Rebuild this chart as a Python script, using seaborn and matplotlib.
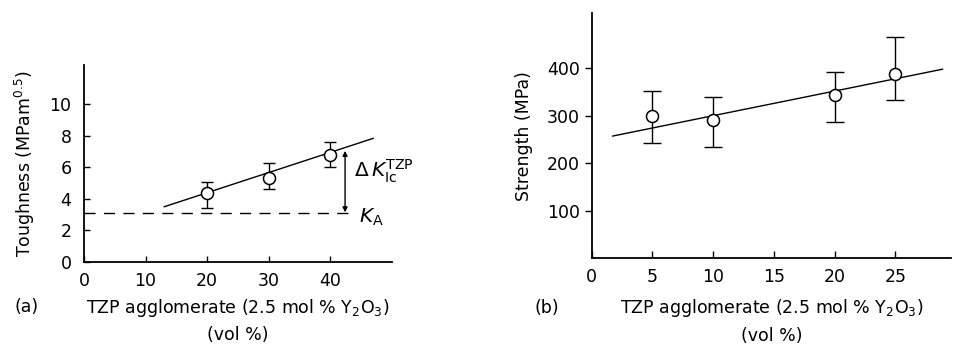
import matplotlib
matplotlib.use("Agg")
import matplotlib.pyplot as plt
import seaborn as sns
import pandas as pd

# Panel (a): fracture toughness vs TZP agglomerate content
tough_x = [20, 30, 40]
tough_y = [4.35, 5.35, 6.8]
tough_lo = [3.45, 4.65, 6.0]
tough_hi = [5.1, 6.25, 7.6]
tough_fit_x = [13, 47]
tough_fit_y = [3.5, 7.85]
k_a = 3.1
delta_k_top = 7.05

# Panel (b): strength vs TZP agglomerate content
str_x = [5, 10, 20, 25]
str_y = [300, 290, 343, 387]
str_lo = [243, 235, 287, 333]
str_hi = [353, 340, 393, 465]
str_fit_x = [1.7, 28.9]
str_fit_y = [257, 398]

a_xticks = [0, 10, 20, 30, 40]
a_yticks = [0, 2, 4, 6, 8, 10]
b_xticks = [0, 5, 10, 15, 20, 25]
b_yticks = [100, 200, 300, 400]

sns.set_style("ticks")
plt.rcParams["font.family"] = ["DejaVu Sans"]
plt.rcParams["font.size"] = 12.5
plt.rcParams["mathtext.fontset"] = "dejavusans"
for key in ("text.color", "axes.labelcolor", "xtick.color", "ytick.color",
            "axes.edgecolor"):
    plt.rcParams[key] = "black"

fig = plt.figure(figsize=(9.56, 3.46), dpi=100)
ax_a = fig.add_axes([0.0879, 0.243, 0.322, 0.569])
ax_b = fig.add_axes([0.619, 0.254, 0.376, 0.708])

xlabel = "TZP agglomerate (2.5 mol % Y$_2$O$_3$)\n(vol %)"
TICK_FS = 12.5


def draw_panel(ax, x, y, lo, hi, fx, fy, capsize):
    df = pd.DataFrame({"x": x, "y": y})
    sns.lineplot(x=fx, y=fy, ax=ax, color="black", lw=1.0, zorder=2)
    yerr = [[v - l for v, l in zip(y, lo)], [h - v for v, h in zip(y, hi)]]
    ax.errorbar(x, y, yerr=yerr, fmt="none", ecolor="black", elinewidth=1.0,
                capsize=capsize, capthick=1.0, zorder=3)
    sns.scatterplot(data=df, x="x", y="y", ax=ax, s=75, facecolor="white",
                    edgecolor="black", linewidth=1.1, zorder=4)
    ax.set_xlabel("")
    ax.set_ylabel("")
    for side in ("top", "right"):
        ax.spines[side].set_visible(False)
    for side in ("left", "bottom"):
        ax.spines[side].set_linewidth(1.3)


# ---- panel (a)
draw_panel(ax_a, tough_x, tough_y, tough_lo, tough_hi, tough_fit_x, tough_fit_y, 4)
ax_a.set_xlim(0, 50)
ax_a.set_ylim(0, 12.5)
ax_a.set_xticks(a_xticks)
ax_a.set_yticks(a_yticks)
ax_a.tick_params(axis="both", direction="in", length=4, width=1.0, labelsize=TICK_FS)
ax_a.tick_params(axis="x", pad=7)
ax_a.tick_params(axis="y", pad=9)
ax_a.plot([0, 43.2], [k_a, k_a], color="black", lw=1.0, dashes=(8, 6), zorder=2)
ax_a.annotate("", xy=(42.4, delta_k_top), xytext=(42.4, k_a + 0.05),
              arrowprops=dict(arrowstyle="<|-|>", color="black", lw=1.0,
                              mutation_scale=7, shrinkA=0, shrinkB=0))
ax_a.text(43.8, 5.75, r"$\Delta\,K_{\mathrm{Ic}}^{\mathrm{TZP}}$", fontsize=14.5,
          va="center", ha="left")
ax_a.text(44.6, 2.8, r"$K_{\mathrm{A}}$", fontsize=14.5, va="center", ha="left")
ax_a.set_ylabel("Toughness (MPam$^{0.5}$)", labelpad=9)
ax_a.set_xlabel(xlabel, linespacing=1.55, labelpad=5)

# ---- panel (b)
draw_panel(ax_b, str_x, str_y, str_lo, str_hi, str_fit_x, str_fit_y, 6.5)
ax_b.set_xlim(0, 29.6)
ax_b.set_ylim(0, 516)
ax_b.set_xticks(b_xticks)
ax_b.set_yticks(b_yticks)
ax_b.tick_params(axis="y", direction="out", length=5, width=1.0, labelsize=TICK_FS)
ax_b.tick_params(axis="x", direction="in", length=5, width=1.0, labelsize=TICK_FS, pad=7)
ax_b.set_ylabel("Strength (MPa)", labelpad=10)
ax_b.set_xlabel(xlabel, linespacing=1.55, labelpad=8)

# Panel tags
fig.text(15 / 956, 1 - 307 / 346, "(a)", ha="left", va="center", fontsize=12.5)
fig.text(535 / 956, 1 - 308 / 346, "(b)", ha="left", va="center", fontsize=12.5)

fig.savefig("out.png", dpi=100, facecolor="white")
